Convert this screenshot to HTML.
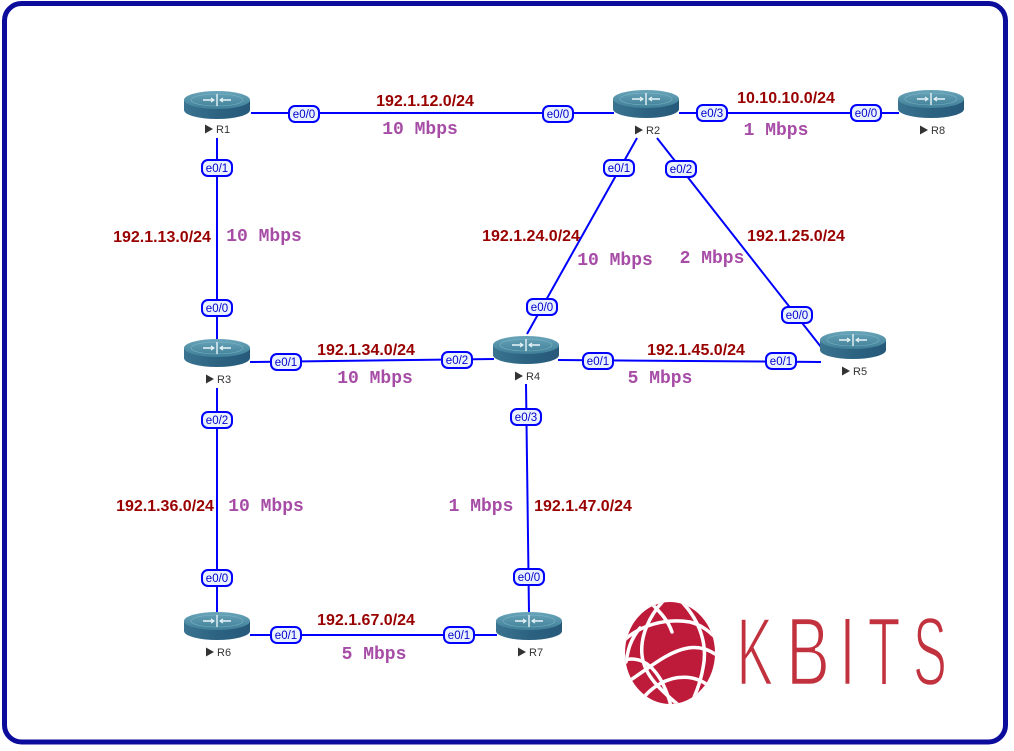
<!DOCTYPE html>
<html>
<head>
<meta charset="utf-8">
<style>
html,body{margin:0;padding:0;background:#fff;}
svg{display:block;}
.ip{font-family:"Liberation Sans",sans-serif;font-weight:bold;font-size:16px;fill:#990000;text-anchor:middle;}
.bw{font-family:"Liberation Mono","DejaVu Sans Mono",monospace;font-weight:bold;font-size:18px;fill:#a64ca6;text-anchor:middle;}
.ifc{font-family:"Liberation Sans",sans-serif;font-size:11.5px;fill:#0000cc;text-anchor:middle;}
.rl{font-family:"Liberation Sans",sans-serif;font-size:11px;fill:#333;}
.kb{font-family:"Liberation Sans",sans-serif;font-size:97px;fill:#c2323e;stroke:#fff;stroke-width:2.4px;paint-order:fill;text-anchor:middle;}
</style>
</head>
<body>
<svg width="1014" height="751" viewBox="0 0 1014 751" xmlns="http://www.w3.org/2000/svg">
<defs>
  <linearGradient id="topg" x1="0" y1="0" x2="0" y2="1">
    <stop offset="0" stop-color="#6aa5ba"/>
    <stop offset="1" stop-color="#3f7f97"/>
  </linearGradient>
  <linearGradient id="sideg" x1="0" y1="0" x2="1" y2="0">
    <stop offset="0" stop-color="#3a7390"/>
    <stop offset="0.5" stop-color="#2c6381"/>
    <stop offset="1" stop-color="#27597a"/>
  </linearGradient>
  <g id="router">
    <path d="M-33,9 L-33,19 A33,9 0 0 0 33,19 L33,9 Z" fill="url(#sideg)"/>
    <ellipse cx="0" cy="9" rx="33" ry="9" fill="url(#topg)"/>
    <ellipse cx="0" cy="9" rx="26" ry="6" fill="none" stroke="#8cc0d0" stroke-width="0.6" opacity="0.7"/>
    <path d="M-14,9 L-4,9 M4,9 L14,9 M0,3 L0,15" stroke="#e8f4f8" stroke-width="1.4"/>
    <path d="M-6,7 L-3,9 L-6,11 M6,7 L3,9 L6,11" stroke="#e8f4f8" stroke-width="1.1" fill="none"/>
  </g>
  <g id="tri"><polygon points="0,-4.5 8,0 0,4.5" fill="#333"/></g>
  <clipPath id="gclip"><ellipse cx="670" cy="653" rx="45" ry="51"/></clipPath>
</defs>

<!-- frame -->
<rect x="4.5" y="3.5" width="1001" height="738.5" rx="17" ry="17" fill="#fff" stroke="#0b0b9c" stroke-width="5"/>

<!-- links -->
<g stroke="#0000ff" stroke-width="2" fill="none">
  <line x1="251" y1="113" x2="614" y2="113"/>
  <line x1="679" y1="113" x2="899" y2="113"/>
  <line x1="217" y1="138" x2="217" y2="340"/>
  <line x1="637" y1="138" x2="527" y2="334"/>
  <line x1="657" y1="138" x2="821" y2="347"/>
  <line x1="250" y1="362" x2="494" y2="359"/>
  <line x1="558" y1="360" x2="821" y2="362"/>
  <line x1="217" y1="388" x2="217" y2="613"/>
  <line x1="526" y1="384" x2="529" y2="613"/>
  <line x1="250" y1="635" x2="497" y2="635"/>
</g>

<!-- routers -->
<use href="#router" x="217" y="91"/>
<use href="#router" x="646" y="90"/>
<use href="#router" x="931" y="90"/>
<use href="#router" x="217" y="339"/>
<use href="#router" x="526" y="336"/>
<use href="#router" x="853" y="331"/>
<use href="#router" x="217" y="612"/>
<use href="#router" x="529" y="612"/>

<!-- router labels -->
<use href="#tri" x="205" y="129"/><text class="rl" x="216" y="133">R1</text>
<use href="#tri" x="635" y="130"/><text class="rl" x="646" y="134">R2</text>
<use href="#tri" x="920" y="130"/><text class="rl" x="931" y="134">R8</text>
<use href="#tri" x="206" y="379"/><text class="rl" x="217" y="383">R3</text>
<use href="#tri" x="515" y="376"/><text class="rl" x="526" y="380">R4</text>
<use href="#tri" x="842" y="371"/><text class="rl" x="853" y="375">R5</text>
<use href="#tri" x="206" y="652"/><text class="rl" x="217" y="656">R6</text>
<use href="#tri" x="518" y="652"/><text class="rl" x="529" y="656">R7</text>

<!-- interface boxes -->
<g fill="#eaf2ff" stroke="#0000ff" stroke-width="2">
  <rect x="289" y="106" width="30" height="16" rx="6"/>
  <rect x="543" y="106" width="30" height="16" rx="6"/>
  <rect x="697" y="105" width="30" height="16" rx="6"/>
  <rect x="851" y="105" width="30" height="16" rx="6"/>
  <rect x="202" y="160" width="30" height="16" rx="6"/>
  <rect x="604" y="160" width="30" height="16" rx="6"/>
  <rect x="666" y="161" width="30" height="16" rx="6"/>
  <rect x="202" y="300" width="30" height="16" rx="6"/>
  <rect x="527" y="299" width="30" height="16" rx="6"/>
  <rect x="782" y="307" width="30" height="16" rx="6"/>
  <rect x="271" y="354" width="30" height="16" rx="6"/>
  <rect x="442" y="352" width="30" height="16" rx="6"/>
  <rect x="583" y="353" width="30" height="16" rx="6"/>
  <rect x="766" y="353" width="30" height="16" rx="6"/>
  <rect x="202" y="412" width="30" height="16" rx="6"/>
  <rect x="511" y="409" width="30" height="16" rx="6"/>
  <rect x="202" y="570" width="30" height="16" rx="6"/>
  <rect x="514" y="569" width="30" height="16" rx="6"/>
  <rect x="271" y="627" width="30" height="16" rx="6"/>
  <rect x="444" y="627" width="30" height="16" rx="6"/>
</g>
<g class="ifc">
  <text x="304" y="118">e0/0</text>
  <text x="558" y="118">e0/0</text>
  <text x="712" y="117">e0/3</text>
  <text x="866" y="117">e0/0</text>
  <text x="217" y="172">e0/1</text>
  <text x="619" y="172">e0/1</text>
  <text x="681" y="173">e0/2</text>
  <text x="217" y="312">e0/0</text>
  <text x="542" y="311">e0/0</text>
  <text x="797" y="319">e0/0</text>
  <text x="286" y="366">e0/1</text>
  <text x="457" y="364">e0/2</text>
  <text x="598" y="365">e0/1</text>
  <text x="781" y="365">e0/1</text>
  <text x="217" y="424">e0/2</text>
  <text x="526" y="421">e0/3</text>
  <text x="217" y="582">e0/0</text>
  <text x="529" y="581">e0/0</text>
  <text x="286" y="639">e0/1</text>
  <text x="459" y="639">e0/1</text>
</g>

<!-- subnet labels -->
<text class="ip" x="425" y="106">192.1.12.0/24</text>
<text class="ip" x="786" y="103">10.10.10.0/24</text>
<text class="ip" x="162" y="242">192.1.13.0/24</text>
<text class="ip" x="531" y="241">192.1.24.0/24</text>
<text class="ip" x="796" y="241">192.1.25.0/24</text>
<text class="ip" x="366" y="355">192.1.34.0/24</text>
<text class="ip" x="696" y="355">192.1.45.0/24</text>
<text class="ip" x="165" y="511">192.1.36.0/24</text>
<text class="ip" x="583" y="511">192.1.47.0/24</text>
<text class="ip" x="366" y="625">192.1.67.0/24</text>

<!-- bandwidth labels -->
<text class="bw" x="420" y="134">10 Mbps</text>
<text class="bw" x="776" y="135">1 Mbps</text>
<text class="bw" x="264" y="241">10 Mbps</text>
<text class="bw" x="615" y="265">10 Mbps</text>
<text class="bw" x="712" y="263">2 Mbps</text>
<text class="bw" x="375" y="383">10 Mbps</text>
<text class="bw" x="660" y="383">5 Mbps</text>
<text class="bw" x="266" y="511">10 Mbps</text>
<text class="bw" x="481" y="511">1 Mbps</text>
<text class="bw" x="374" y="659">5 Mbps</text>

<!-- KBITS logo globe -->
<ellipse cx="670" cy="653" rx="45" ry="51" fill="#be1a3a"/>
<g clip-path="url(#gclip)" stroke="#fff" stroke-width="3.5" fill="none" stroke-linecap="round">
  <path d="M664,600 C650,615 640,635 642,655 C644,675 660,690 682,708"/>
  <path d="M622,642 C640,625 665,618 690,622 C702,625 710,632 718,640"/>
  <path d="M680,600 C700,620 708,645 703,668 C700,685 694,698 688,710"/>
  <path d="M624,684 C645,672 665,652 688,648 C700,646 710,650 718,656"/>
  <path d="M636,708 C648,688 668,674 692,678 C702,680 710,686 716,692"/>
  <path d="M624,660 C640,656 652,664 662,682 C668,694 670,702 672,710"/>
  <path d="M650,602 C660,612 668,620 672,632"/>
  <path d="M640,628 C630,640 628,650 626,662"/>
</g>

<!-- KBITS letters -->
<text class="kb" transform="translate(755,685) scale(0.57,1)" x="0" y="0">K</text>
<text class="kb" transform="translate(808,685) scale(0.68,1)" x="0" y="0">B</text>
<text class="kb" transform="translate(847.5,685) scale(0.6,1)" x="0" y="0">I</text>
<text class="kb" transform="translate(884,685) scale(0.55,1)" x="0" y="0">T</text>
<text class="kb" transform="translate(930,685) scale(0.52,1)" x="0" y="0">S</text>
</svg>
</body>
</html>
